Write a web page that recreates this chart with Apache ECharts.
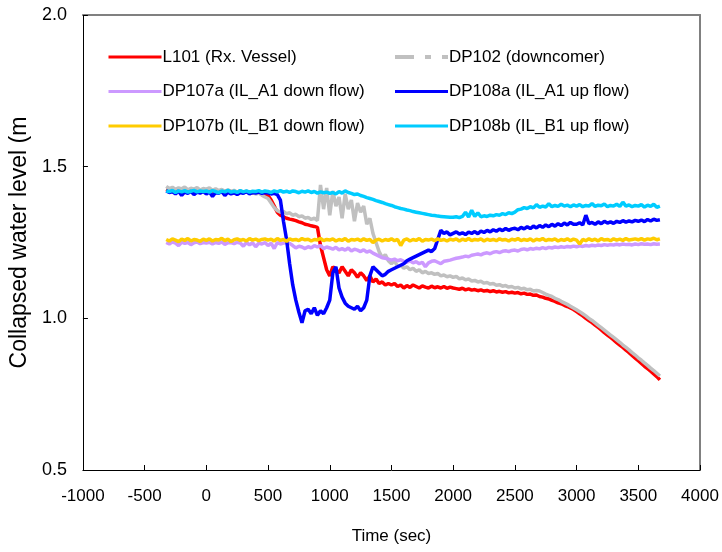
<!DOCTYPE html>
<html>
<head>
<meta charset="utf-8">
<script src="https://cdn.jsdelivr.net/npm/echarts@6/dist/echarts.min.js"></script>
<style>
html,body{margin:0;padding:0;background:#fff;}
#chart{width:722px;height:552px;}
</style>
</head>
<body>
<div id="chart"></div>
<script>
const time = [
-325,-300,-275,-250,-225,-200,-175,-150,-125,-100,-75,-50,-25,
0,25,50,75,100,125,150,175,200,225,250,275,300,325,350,375,400,425,450,475,
500,525,550,575,600,625,650,675,700,725,750,775,800,825,850,875,900,925,950,975,
1000,1025,1050,1075,1100,1125,1150,1175,1200,1225,1250,1275,1300,1325,1350,1375,1400,1425,1450,1475,
1500,1525,1550,1575,1600,1625,1650,1675,1700,1725,1750,1775,1800,1825,1850,1875,1900,1925,1950,1975,
2000,2025,2050,2075,2100,2125,2150,2175,2200,2225,2250,2275,2300,2325,2350,2375,2400,2425,2450,2475,
2500,2525,2550,2575,2600,2625,2650,2675,2700,2725,2750,2775,2800,2825,2850,2875,2900,2925,2950,2975,
3000,3025,3050,3075,3100,3125,3150,3175,3200,3225,3250,3275,3300,3325,3350,3375,3400,3425,3450,3475,
3500,3525,3550,3575,3600,3625,3650,3675
];
const L101 = [
1.425,1.42,1.418,1.423,1.419,1.421,1.417,1.42,1.422,1.418,1.42,1.416,1.419,
1.418,1.421,1.417,1.42,1.415,1.419,1.416,1.42,1.418,1.414,1.417,1.419,1.415,1.418,1.416,1.413,1.417,1.414,1.412,1.41,
1.405,1.39,1.37,1.35,1.34,1.335,1.33,1.327,1.325,1.322,1.318,1.315,1.31,1.308,1.305,1.303,1.30,1.24,1.20,1.16,
1.14,1.17,1.16,1.15,1.17,1.155,1.14,1.16,1.15,1.135,1.15,1.14,1.125,1.14,1.12,1.13,1.115,1.12,1.11,1.115,
1.11,1.115,1.105,1.11,1.10,1.108,1.102,1.11,1.105,1.10,1.107,1.103,1.10,1.106,1.101,1.104,1.10,1.105,1.099,1.103,
1.10,1.098,1.096,1.099,1.094,1.097,1.093,1.095,1.091,1.094,1.09,1.092,1.088,1.091,1.087,1.089,1.086,1.088,1.084,1.086,
1.083,1.085,1.081,1.083,1.079,1.08,1.076,1.077,1.072,1.07,1.066,1.064,1.059,1.056,1.051,1.048,1.043,1.039,1.034,1.029,
1.022,1.015,1.008,1.0,0.993,0.986,0.978,0.97,0.962,0.953,0.945,0.937,0.929,0.92,0.912,0.904,0.895,0.887,0.878,0.869,
0.86,0.851,0.842,0.834,0.826,0.817,0.808,0.797
];
const DP102 = [
1.435,1.428,1.432,1.425,1.43,1.427,1.433,1.424,1.429,1.426,1.431,1.423,1.428,
1.426,1.43,1.422,1.427,1.421,1.425,1.419,1.424,1.418,1.422,1.416,1.42,1.414,1.418,1.412,1.415,1.41,1.413,1.406,1.40,
1.395,1.38,1.365,1.355,1.35,1.352,1.345,1.348,1.34,1.343,1.335,1.338,1.33,1.333,1.326,1.33,1.322,1.44,1.36,1.43,
1.34,1.42,1.37,1.40,1.33,1.41,1.36,1.39,1.32,1.38,1.35,1.37,1.31,1.33,1.28,1.25,1.22,1.2,1.21,1.19,
1.18,1.19,1.17,1.175,1.165,1.17,1.16,1.165,1.155,1.16,1.15,1.155,1.148,1.15,1.145,1.148,1.14,1.143,1.137,1.14,
1.135,1.138,1.13,1.133,1.127,1.13,1.123,1.125,1.12,1.122,1.116,1.118,1.113,1.115,1.109,1.111,1.106,1.108,1.103,1.105,
1.10,1.102,1.097,1.099,1.094,1.096,1.09,1.092,1.09,1.085,1.08,1.076,1.072,1.066,1.062,1.056,1.051,1.046,1.04,1.034,
1.028,1.022,1.015,1.008,1.0,0.993,0.985,0.977,0.969,0.961,0.953,0.945,0.937,0.929,0.921,0.912,0.904,0.896,0.887,0.879,
0.87,0.862,0.853,0.845,0.836,0.828,0.819,0.81
];
const DP107a = [
1.25,1.245,1.252,1.248,1.24,1.251,1.247,1.25,1.243,1.249,1.252,1.246,1.25,
1.248,1.251,1.245,1.25,1.247,1.252,1.244,1.249,1.25,1.246,1.251,1.248,1.238,1.25,1.242,1.249,1.236,1.248,1.245,1.25,
1.24,1.248,1.23,1.25,1.245,1.248,1.25,1.247,1.24,1.232,1.238,1.235,1.23,1.236,1.232,1.24,1.235,1.24,1.23,1.235,
1.232,1.228,1.234,1.226,1.23,1.225,1.232,1.222,1.228,1.225,1.22,1.226,1.218,1.222,1.215,1.21,1.205,1.2,1.198,1.195,
1.192,1.195,1.19,1.193,1.188,1.185,1.19,1.183,1.187,1.18,1.185,1.17,1.183,1.188,1.19,1.185,1.18,1.188,1.19,1.192,
1.195,1.198,1.2,1.202,1.205,1.203,1.208,1.21,1.212,1.209,1.214,1.216,1.213,1.218,1.22,1.217,1.221,1.223,1.22,1.224,
1.225,1.222,1.227,1.229,1.226,1.23,1.228,1.231,1.229,1.233,1.23,1.234,1.232,1.235,1.233,1.236,1.234,1.237,1.235,1.238,
1.236,1.239,1.237,1.24,1.238,1.241,1.239,1.242,1.24,1.243,1.241,1.243,1.242,1.244,1.242,1.245,1.243,1.244,1.242,1.245,
1.243,1.246,1.244,1.245,1.243,1.246,1.244,1.245
];
const DP108a = [
1.42,1.415,1.418,1.41,1.42,1.405,1.417,1.412,1.419,1.408,1.416,1.413,1.418,
1.41,1.417,1.402,1.415,1.412,1.418,1.405,1.416,1.41,1.414,1.408,1.415,1.412,1.418,1.41,1.415,1.413,1.416,1.412,1.415,
1.414,1.41,1.412,1.408,1.39,1.32,1.26,1.18,1.11,1.06,1.02,0.985,1.025,1.03,1.015,1.035,1.01,1.025,1.015,1.035,
1.06,1.15,1.17,1.10,1.07,1.05,1.04,1.035,1.03,1.04,1.025,1.035,1.06,1.14,1.17,1.16,1.15,1.14,1.145,1.155,
1.16,1.165,1.17,1.175,1.18,1.19,1.195,1.20,1.205,1.21,1.215,1.22,1.225,1.22,1.23,1.26,1.29,1.28,1.285,1.275,
1.28,1.285,1.278,1.282,1.276,1.284,1.28,1.286,1.279,1.288,1.283,1.29,1.285,1.292,1.287,1.294,1.289,1.296,1.29,1.295,
1.297,1.292,1.30,1.295,1.302,1.296,1.304,1.298,1.306,1.30,1.308,1.302,1.31,1.304,1.312,1.306,1.314,1.308,1.316,1.31,
1.31,1.315,1.308,1.34,1.312,1.316,1.31,1.318,1.312,1.32,1.314,1.318,1.313,1.32,1.316,1.322,1.317,1.321,1.318,1.323,
1.32,1.324,1.319,1.326,1.321,1.327,1.323,1.325
];
const DP107b = [
1.26,1.255,1.262,1.258,1.253,1.261,1.257,1.263,1.255,1.26,1.258,1.254,1.261,
1.257,1.262,1.255,1.26,1.258,1.264,1.256,1.261,1.253,1.259,1.262,1.257,1.26,1.255,1.263,1.258,1.261,1.256,1.26,1.262,
1.258,1.261,1.255,1.263,1.257,1.26,1.254,1.262,1.258,1.26,1.256,1.263,1.259,1.261,1.255,1.26,1.258,1.264,1.256,1.26,
1.258,1.262,1.255,1.26,1.257,1.263,1.254,1.26,1.258,1.261,1.256,1.262,1.257,1.26,1.25,1.258,1.261,1.255,1.26,1.257,
1.262,1.256,1.26,1.24,1.258,1.262,1.255,1.26,1.257,1.263,1.254,1.26,1.258,1.261,1.256,1.262,1.257,1.26,1.255,1.261,
1.258,1.262,1.255,1.261,1.257,1.263,1.256,1.26,1.258,1.262,1.255,1.261,1.257,1.26,1.256,1.262,1.258,1.26,1.255,1.261,
1.258,1.263,1.256,1.26,1.257,1.262,1.255,1.261,1.258,1.263,1.256,1.26,1.258,1.262,1.255,1.26,1.257,1.262,1.256,1.261,
1.258,1.245,1.26,1.256,1.262,1.257,1.261,1.255,1.263,1.258,1.26,1.256,1.262,1.258,1.261,1.257,1.263,1.258,1.26,1.262,
1.259,1.263,1.258,1.262,1.26,1.264,1.259,1.262
];
const DP108b = [
1.42,1.418,1.422,1.415,1.42,1.417,1.421,1.416,1.419,1.422,1.417,1.42,1.418,
1.42,1.416,1.421,1.418,1.414,1.42,1.417,1.422,1.416,1.419,1.415,1.421,1.417,1.42,1.416,1.419,1.418,1.421,1.416,1.42,
1.418,1.415,1.42,1.417,1.421,1.416,1.419,1.415,1.42,1.418,1.414,1.419,1.416,1.42,1.415,1.418,1.413,1.417,1.414,1.416,
1.412,1.415,1.41,1.418,1.413,1.42,1.415,1.412,1.408,1.41,1.405,1.402,1.398,1.395,1.392,1.388,1.385,1.382,1.378,1.375,
1.372,1.368,1.365,1.362,1.36,1.357,1.355,1.352,1.35,1.348,1.346,1.344,1.342,1.34,1.339,1.337,1.336,1.335,1.334,1.333,
1.333,1.335,1.332,1.336,1.35,1.334,1.356,1.336,1.348,1.335,1.338,1.336,1.34,1.338,1.342,1.34,1.345,1.342,1.348,1.345,
1.35,1.358,1.36,1.365,1.362,1.368,1.364,1.375,1.366,1.37,1.367,1.378,1.368,1.372,1.369,1.376,1.37,1.373,1.368,1.374,
1.37,1.375,1.368,1.372,1.37,1.378,1.369,1.373,1.371,1.377,1.368,1.372,1.37,1.376,1.369,1.383,1.37,1.374,1.368,1.372,
1.37,1.375,1.367,1.373,1.369,1.376,1.366,1.37
];

const seriesNames = ['L101 (Rx. Vessel)','DP102 (downcomer)','DP107a (IL_A1 down flow)','DP108a (IL_A1 up flow)','DP107b (IL_B1 down flow)','DP108b (IL_B1 up flow)'];
const seriesValues = [L101, DP102, DP107a, DP108a, DP107b, DP108b];
const seriesColors = ['#FF0000','#C0C0C0','#CC99FF','#0000FF','#FFCC00','#00CCFF'];
const xTicks = {min:-1000, max:4000, interval:500};
const yTicks = {min:0.5, max:2.0, interval:0.5};

const FONT = '"Liberation Sans", Arial, sans-serif';
const chart = echarts.init(document.getElementById('chart'), null, {renderer:'canvas'});

function pairs(vals){ return vals.map((v,i)=>[time[i], v]); }

const series = seriesNames.map((n,k)=>({
  name:n, type:'line', data:pairs(seriesValues[k]), symbol:'none', showSymbol:false,
  lineStyle:{color:seriesColors[k], width:3.5}, itemStyle:{color:seriesColors[k]},
  z: 2 + k, animation:false
}));

const legendCommon = {
  orient:'vertical', top:42, itemWidth:53, itemHeight:14, itemGap:14.5,
  textStyle:{fontFamily:FONT, fontSize:17, color:'#000', lineHeight:20, padding:[0,0,0,-4]},
  selectedMode:false
};
function legendItem(k){
  const it = {name:seriesNames[k], itemStyle:{opacity:0, color:'rgba(0,0,0,0)', borderWidth:0},
              lineStyle:{color:seriesColors[k], width:3, opacity:1}};
  if(k===1){ it.lineStyle = {color:seriesColors[k], width:4, opacity:1, type:[19,11,6,11]}; }
  return it;
}

chart.setOption({
  animation:false,
  backgroundColor:'#fff',
  grid:{left:80, right:22, top:15, bottom:82, containLabel:false},
  legend:[
    Object.assign({}, legendCommon, {left:102, data:[0,2,4].map(legendItem)}),
    Object.assign({}, legendCommon, {left:388, data:[1,3,5].map(legendItem)})
  ],
  xAxis:[{
    type:'value', min:xTicks.min, max:xTicks.max, interval:xTicks.interval,
    name:'Time (sec)', nameLocation:'middle', nameGap:58,
    nameTextStyle:{fontFamily:FONT, fontSize:17, color:'#000'},
    axisLine:{show:true, onZero:false, lineStyle:{color:'#000', width:1}},
    axisTick:{show:true, inside:true, length:5, lineStyle:{color:'#000'}},
    axisLabel:{fontFamily:FONT, fontSize:17, color:'#000', margin:18, formatter:v=>String(v)},
    splitLine:{show:false}
  },{
    type:'value', position:'top', min:xTicks.min, max:xTicks.max, interval:xTicks.interval,
    axisLine:{show:true, onZero:false, lineStyle:{color:'#808080', width:2}},
    axisTick:{show:false}, axisLabel:{show:false}, splitLine:{show:false}
  }],
  yAxis:[{
    type:'value', min:yTicks.min, max:yTicks.max, interval:yTicks.interval,
    name:'Collapsed water level (m', nameLocation:'middle', nameGap:41, nameRotate:90,
    nameTextStyle:{fontFamily:FONT, fontSize:23, color:'#000'},
    axisLine:{show:true, onZero:false, lineStyle:{color:'#000', width:1}},
    axisTick:{show:true, inside:true, length:5, lineStyle:{color:'#000'}},
    axisLabel:{fontFamily:FONT, fontSize:18, color:'#000', margin:16, formatter:v=>v.toFixed(1)},
    splitLine:{show:false}
  },{
    type:'value', position:'right', min:yTicks.min, max:yTicks.max, interval:yTicks.interval,
    axisLine:{show:true, onZero:false, lineStyle:{color:'#808080', width:2}},
    axisTick:{show:false}, axisLabel:{show:false}, splitLine:{show:false}
  }],
  series: series
});
</script>
</body>
</html>
